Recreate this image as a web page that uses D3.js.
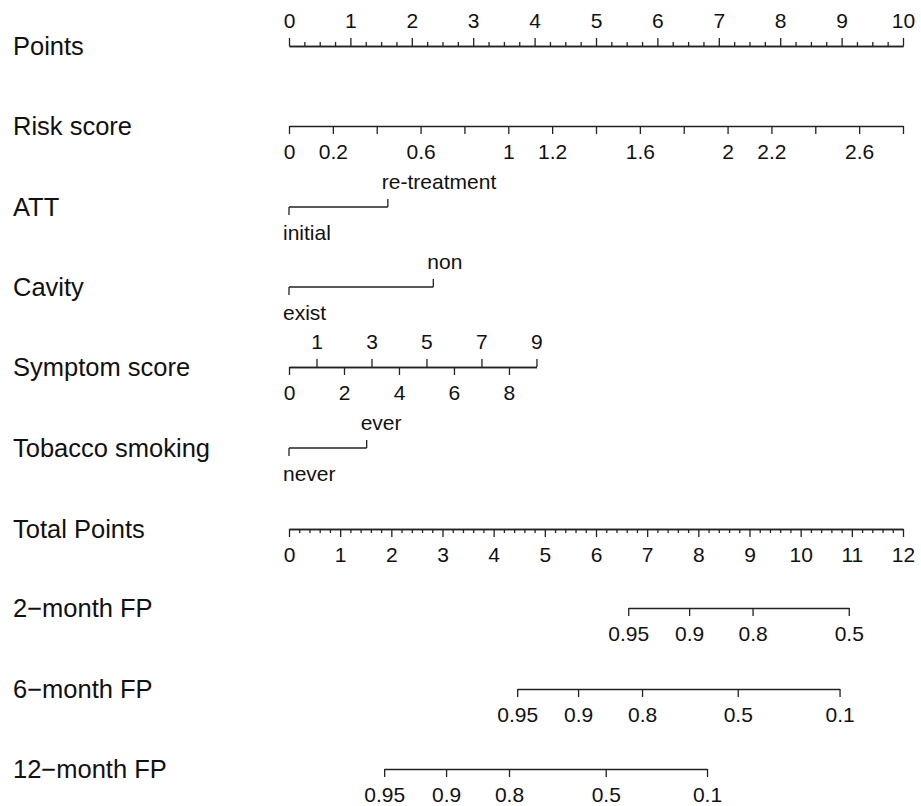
<!DOCTYPE html>
<html><head><meta charset="utf-8">
<script src="https://cdn.jsdelivr.net/npm/d3@7"></script>
<style>
body{margin:0;background:#fff}
svg{display:block}
text{font-family:"Liberation Sans",Arial,Helvetica,sans-serif;fill:#111}
</style>
</head><body>
<svg id="c" width="921" height="806"></svg>
<script>
// ---------------- data ----------------
const rowLabels = ["Points","Risk score","ATT","Cavity","Symptom score","Tobacco smoking","Total Points","2\u2212month FP","6\u2212month FP","12\u2212month FP"];

const pointsTicks = [0,1,2,3,4,5,6,7,8,9,10];
const pointsMinorStep = 0.25;

const riskTicks  = [0,0.2,0.4,0.6,0.8,1,1.2,1.4,1.6,1.8,2,2.2,2.4,2.6,2.8];
const riskLabels = [0,0.2,0.6,1,1.2,1.6,2,2.2,2.6];
const riskMax = 2.8, riskMaxPoints = 10;

const attLevels = ["initial","re-treatment"];
const attPoints = [0, 1.61];

const cavityLevels = ["exist","non"];
const cavityPoints = [0, 2.35];

const symptomUpper = [1,3,5,7,9];
const symptomLower = [0,2,4,6,8];
const symptomMax = 9, symptomMaxPoints = 4.03;

const tobaccoLevels = ["never","ever"];
const tobaccoPoints = [0, 1.265];

const totalTicks = [0,1,2,3,4,5,6,7,8,9,10,11,12];
const totalMinorStep = 0.2;

const fp2Probs  = [0.95,0.9,0.8,0.5];
const fp2Totals = [6.63,7.82,9.06,10.94];
const fp6Probs  = [0.95,0.9,0.8,0.5,0.1];
const fp6Totals = [4.46,5.65,6.90,8.77,10.76];
const fp12Probs  = [0.95,0.9,0.8,0.5,0.1];
const fp12Totals = [1.86,3.07,4.30,6.19,8.17];

// ---------------- layout ----------------
const svg = d3.select("#c");
const X0 = 289, X1 = 903;
const rowY = [46,126,207,287,367,448,529,608,689,769];
const INK = "#222";
const FONT = '"Liberation Sans",Arial,Helvetica,sans-serif';
const AX_FS = 21, ROW_FS = 25.5, TICK = 8, MINOR = 4, PAD = 10;

const xPoints = d3.scaleLinear().domain([0,10]).range([X0,X1]);
const xTotal  = d3.scaleLinear().domain([0,12]).range([X0,X1]);

function style(g){
  g.attr("font-size",AX_FS).attr("font-family",FONT);
  g.selectAll("path.domain").attr("stroke",INK).attr("stroke-width",1.3);
  g.selectAll("line").attr("stroke",INK).attr("stroke-width",1.3);
  g.selectAll("text").attr("fill","#111");
}

// row labels
svg.append("g").selectAll("text").data(rowLabels).join("text")
  .attr("x",13).attr("y",(d,i)=>rowY[i]+8.5)
  .attr("font-size",ROW_FS).text(d=>d);

// Points axis (labels above)
{
  const minor = d3.range(0,10+1e-9,pointsMinorStep).filter(v=>Math.abs(v-Math.round(v))>1e-6);
  const gm = svg.append("g").attr("transform",`translate(0,${rowY[0]})`)
    .call(d3.axisTop(xPoints).tickValues(minor).tickSize(MINOR).tickSizeOuter(0).tickFormat(""));
  style(gm);
  const g = svg.append("g").attr("transform",`translate(0,${rowY[0]})`)
    .call(d3.axisTop(xPoints).tickValues(pointsTicks).tickSize(TICK).tickSizeOuter(0).tickPadding(PAD).tickFormat(d3.format("d")));
  style(g);
}

// Risk score (labels below)
{
  const xr = d3.scaleLinear().domain([0,riskMax]).range([xPoints(0), xPoints(riskMaxPoints)]);
  const g = svg.append("g").attr("transform",`translate(0,${rowY[1]})`)
    .call(d3.axisBottom(xr).tickValues(riskTicks).tickSize(TICK).tickSizeOuter(0).tickPadding(PAD)
      .tickFormat(v=> riskLabels.some(l=>Math.abs(l-v)<1e-6) ? d3.format("~g")(+v.toFixed(2)) : ""));
  style(g);
}

// categorical rows
function catRow(levels, pts, y){
  const g = svg.append("g");
  const xs = pts.map(p=>xPoints(p));
  g.append("line").attr("x1",xs[0]).attr("x2",xs[xs.length-1]).attr("y1",y).attr("y2",y)
    .attr("stroke",INK).attr("stroke-width",1.3);
  levels.forEach((lv,i)=>{
    const up = i%2===1;
    g.append("line").attr("x1",xs[i]).attr("x2",xs[i]).attr("y1",y).attr("y2",up?y-TICK:y+TICK)
      .attr("stroke",INK).attr("stroke-width",1.3);
    g.append("text").attr("x",xs[i]-6).attr("y",up? y-TICK-PAD : y+TICK+PAD+0.71*AX_FS)
      .attr("font-size",AX_FS).text(lv);
  });
}
catRow(attLevels, attPoints, rowY[2]);
catRow(cavityLevels, cavityPoints, rowY[3]);

// Symptom score
{
  const xs = d3.scaleLinear().domain([0,symptomMax]).range([xPoints(0), xPoints(symptomMaxPoints)]);
  const g1 = svg.append("g").attr("transform",`translate(0,${rowY[4]})`)
    .call(d3.axisTop(xs).tickValues(symptomUpper).tickSize(TICK).tickSizeOuter(0).tickPadding(PAD).tickFormat(d3.format("d")));
  style(g1);
  const g2 = svg.append("g").attr("transform",`translate(0,${rowY[4]})`)
    .call(d3.axisBottom(xs).tickValues(symptomLower).tickSize(TICK).tickSizeOuter(0).tickPadding(PAD).tickFormat(d3.format("d")));
  style(g2);
}

catRow(tobaccoLevels, tobaccoPoints, rowY[5]);

// Total points
{
  const minor = d3.range(0,12+1e-9,totalMinorStep).filter(v=>Math.abs(v-Math.round(v))>1e-6);
  const gm = svg.append("g").attr("transform",`translate(0,${rowY[6]})`)
    .call(d3.axisBottom(xTotal).tickValues(minor).tickSize(MINOR).tickSizeOuter(0).tickFormat(""));
  style(gm);
  const g = svg.append("g").attr("transform",`translate(0,${rowY[6]})`)
    .call(d3.axisBottom(xTotal).tickValues(totalTicks).tickSize(TICK).tickSizeOuter(0).tickPadding(PAD).tickFormat(d3.format("d")));
  style(g);
}

// FP axes
function fpRow(probs, totals, y){
  const xs = d3.scaleLinear().domain([totals[0], totals[totals.length-1]])
    .range([xTotal(totals[0]), xTotal(totals[totals.length-1])]);
  const g = svg.append("g").attr("transform",`translate(0,${y})`)
    .call(d3.axisBottom(xs).tickValues(totals).tickSize(TICK).tickSizeOuter(0).tickPadding(PAD)
      .tickFormat((d,i)=>String(probs[i])));
  style(g);
}
fpRow(fp2Probs, fp2Totals, rowY[7]);
fpRow(fp6Probs, fp6Totals, rowY[8]);
fpRow(fp12Probs, fp12Totals, rowY[9]);
</script>
</body></html>
